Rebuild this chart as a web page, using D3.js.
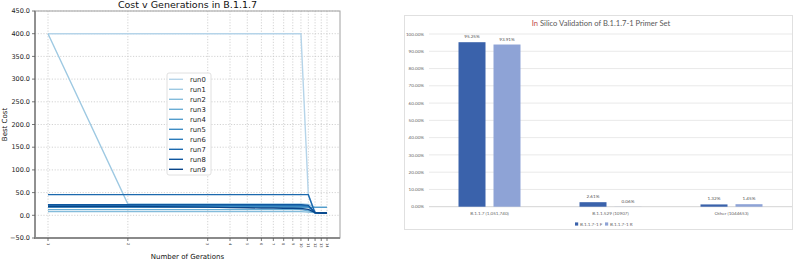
<!DOCTYPE html>
<html>
<head>
<meta charset="utf-8">
<script src="https://cdn.jsdelivr.net/npm/d3@7"></script>
<style>
  body { margin: 0; background: #fff; }
  svg { display: block; }
</style>
</head>
<body>
<div id="chart"></div>
<script>
// ---- data: left chart (cost per generation, 10 runs) ----
var gens = [1, 2, 3, 4, 5, 6, 7, 8, 9, 10, 11, 12, 13, 14];
var genLabels = ["1", "2", "3", "4", "5", "6", "7", "8", "9", "10", "11", "12", "13", "14"];
var runNames = ["run0", "run1", "run2", "run3", "run4", "run5", "run6", "run7", "run8", "run9"];
var run0 = [400, 400, 400, 400, 400, 400, 400, 400, 400, 400, 45, 6, 6, 6];
var run1 = [400, 25, 25, 25, 25, 25, 25, 25, 25, 25, 24, 18, 18, 18];
var run2 = [8, 8, 8, 8, 8, 8, 8, 8, 8, 8, 7, 6, 6, 6];
var run3 = [12.5, 12.5, 12.5, 12.5, 12.5, 12.5, 12.5, 12.5, 12.5, 12.5, 10, 6, 5, 5];
var run4 = [17.5, 17.5, 17.5, 17.5, 17.5, 17.5, 17.5, 17.5, 17.5, 17.5, 17.5, 17.5, 17.5, 17.5];
var run5 = [20, 20, 20, 20, 20, 20, 20, 20, 20, 20, 19, 6, 5, 5];
var run6 = [22, 22, 22, 22, 22, 22, 22, 22, 22, 22, 20, 6, 5, 5];
var run7 = [45.5, 45.5, 45.5, 45.5, 45.5, 45.5, 45.5, 45.5, 45.5, 45.5, 45.5, 5, 5, 5];
var run8 = [23.5, 23.5, 23.5, 23.5, 23.5, 23.5, 23.5, 23.5, 23.5, 23.5, 22, 6, 5, 5];
var run9 = [19.5, 19.5, 18, 17, 16.5, 16, 16, 15.5, 15.5, 15, 13, 6, 5, 5];
var runs = [run0, run1, run2, run3, run4, run5, run6, run7, run8, run9];
var costTicks = [-50, 0, 50, 100, 150, 200, 250, 300, 350, 400, 450];

// ---- data: right chart (in silico validation) ----
var categories = ["B.1.1.7 (1,051,740)", "B.1.1.529 (10907)", "Other (1044653)"];
var primerNames = ["B.1.1.7-1 F", "B.1.1.7-1 R"];
var primerF = [95.25, 2.61, 1.32];
var primerR = [93.91, 0.06, 1.45];
var pctTicks = [0, 10, 20, 30, 40, 50, 60, 70, 80, 90, 100];

var svg = d3.select("#chart").append("svg")
  .attr("width", 799)
  .attr("height", 261);

// ================= left: line chart =================
var L = {left: 35, right: 340, top: 11, bottom: 238};

// linear for the first generations, log afterwards (symlog style axis)
var LIN = 0.448;
function tx(g) { return g <= 3 ? g * LIN : 3 * LIN + Math.log10(g / 3); }
var xs = d3.scaleLinear().domain([tx(1), tx(14)]).range([48, 327]);
function x(g) { return xs(tx(g)); }

var y = d3.scaleLinear().domain([-50, 450]).range([L.bottom, L.top]);

var left = svg.append("g").attr("font-family", "DejaVu Sans, sans-serif");

// grid
left.append("g").selectAll("line.gy")
  .data(costTicks)
  .join("line")
    .attr("x1", L.left).attr("x2", L.right)
    .attr("y1", function(d) { return y(d); }).attr("y2", function(d) { return y(d); })
    .attr("stroke", "#c8c8c8").attr("stroke-width", 0.8)
    .attr("stroke-dasharray", "1.2,1.6");
left.append("g").selectAll("line.gx")
  .data(gens)
  .join("line")
    .attr("x1", function(d) { return x(d); }).attr("x2", function(d) { return x(d); })
    .attr("y1", L.top).attr("y2", L.bottom)
    .attr("stroke", "#c8c8c8").attr("stroke-width", 0.8)
    .attr("stroke-dasharray", "1.2,1.6");

// lines
var colors = runs.map(function(d, i) { return d3.interpolateBlues(0.3 + 0.62 * i / 9); });
var line = d3.line()
  .x(function(d, i) { return x(gens[i]); })
  .y(function(d) { return y(d); });

left.append("g").selectAll("path")
  .data(runs)
  .join("path")
    .attr("fill", "none")
    .attr("stroke", function(d, i) { return colors[i]; })
    .attr("stroke-width", 1.4)
    .attr("d", line);

// frame
left.append("rect")
  .attr("x", L.left).attr("y", L.top)
  .attr("width", L.right - L.left).attr("height", L.bottom - L.top)
  .attr("fill", "none").attr("stroke", "#a0a0a0").attr("stroke-width", 1);
left.append("line").attr("x1", L.left).attr("x2", L.left).attr("y1", L.top).attr("y2", L.bottom + 1)
  .attr("stroke", "#8a8a8a").attr("stroke-width", 1.8);
left.append("line").attr("x1", L.left - 1).attr("x2", L.right).attr("y1", L.bottom).attr("y2", L.bottom)
  .attr("stroke", "#8a8a8a").attr("stroke-width", 1.8);

// y axis ticks
left.append("g").selectAll("g")
  .data(costTicks)
  .join("g")
    .attr("transform", function(d) { return "translate(0," + y(d) + ")"; })
    .each(function(d) {
      var g = d3.select(this);
      g.append("line").attr("x1", L.left - 3).attr("x2", L.left).attr("stroke", "#555").attr("stroke-width", 0.8);
      g.append("text").attr("x", L.left - 5).attr("dy", "0.35em")
        .attr("text-anchor", "end").attr("font-size", 6.5).attr("fill", "#222")
        .text(d3.format(".1f")(d));
    });

// x axis ticks (rotated labels)
left.append("g").selectAll("g")
  .data(gens)
  .join("g")
    .attr("transform", function(d) { return "translate(" + x(d) + "," + L.bottom + ")"; })
    .each(function(d, i) {
      var g = d3.select(this);
      g.append("line").attr("y1", 0).attr("y2", 3).attr("stroke", "#555").attr("stroke-width", 0.8);
      g.append("text").attr("transform", "translate(0,5) rotate(90)")
        .attr("dy", "0.35em").attr("font-size", 3.6).attr("fill", "#333")
        .text(genLabels[i]);
    });

// titles
left.append("text").attr("x", (L.left + L.right) / 2).attr("y", 8)
  .attr("text-anchor", "middle").attr("font-size", 9.5).attr("fill", "#111")
  .text("Cost v Generations in B.1.1.7");
left.append("text").attr("x", (L.left + L.right) / 2).attr("y", 259)
  .attr("text-anchor", "middle").attr("font-size", 7).attr("fill", "#111")
  .text("Number of Gerations");
left.append("text").attr("transform", "translate(7," + ((L.top + L.bottom) / 2) + ") rotate(-90)")
  .attr("text-anchor", "middle").attr("font-size", 7).attr("fill", "#111")
  .text("Best Cost");

// legend
var lg = left.append("g").attr("transform", "translate(167,73)");
lg.append("rect").attr("width", 44).attr("height", 102).attr("rx", 2)
  .attr("fill", "#fff").attr("fill-opacity", 0.85).attr("stroke", "#d8d8d8").attr("stroke-width", 0.8);
lg.selectAll("g")
  .data(runNames)
  .join("g")
    .attr("transform", function(d, i) { return "translate(0," + (6.3 + i * 10) + ")"; })
    .each(function(d, i) {
      var g = d3.select(this);
      g.append("line").attr("x1", 2).attr("x2", 16).attr("stroke", colors[i]).attr("stroke-width", 1.4);
      g.append("text").attr("x", 23).attr("dy", "0.35em").attr("font-size", 6.8).attr("fill", "#222").text(d);
    });

// ================= right: grouped bar chart =================
var R = {left: 429, right: 792, top: 34, bottom: 206.7};
var right = svg.append("g").attr("font-family", "Lato, Open Sans, sans-serif");

right.append("rect").attr("x", 404.5).attr("y", 15.5).attr("width", 388).attr("height", 214)
  .attr("fill", "#fff").attr("stroke", "#e0e0e0").attr("stroke-width", 1);

var yb = d3.scaleLinear().domain([0, 100]).range([R.bottom, R.top]);
var x0 = d3.scaleBand().domain(categories).range([R.left, R.right]);
var x1 = d3.scaleBand().domain(primerNames).range([0, x0.bandwidth()])
  .paddingInner(0.2286).paddingOuter(0.843);
var barColors = {"B.1.1.7-1 F": "#3a62ab", "B.1.1.7-1 R": "#8ea3d6"};

right.append("g").selectAll("line")
  .data(pctTicks)
  .join("line")
    .attr("x1", R.left).attr("x2", R.right)
    .attr("y1", function(d) { return yb(d); }).attr("y2", function(d) { return yb(d); })
    .attr("stroke", function(d) { return d === 0 ? "#d0d0d0" : "#e6e6e6"; }).attr("stroke-width", 0.9);

right.append("g").selectAll("text")
  .data(pctTicks)
  .join("text")
    .attr("x", 424).attr("y", function(d) { return yb(d); }).attr("dy", "0.35em")
    .attr("text-anchor", "end").attr("font-size", 4.6).attr("fill", "#666")
    .text(function(d) { return d3.format(".2f")(d) + "%"; });

var rows = categories.map(function(c, i) {
  return {cat: c, vals: [{k: primerNames[0], v: primerF[i]}, {k: primerNames[1], v: primerR[i]}]};
});

var grp = right.append("g").selectAll("g")
  .data(rows)
  .join("g")
    .attr("transform", function(d) { return "translate(" + x0(d.cat) + ",0)"; });

grp.selectAll("rect")
  .data(function(d) { return d.vals; })
  .join("rect")
    .attr("x", function(d) { return x1(d.k); })
    .attr("y", function(d) { return yb(d.v); })
    .attr("width", x1.bandwidth())
    .attr("height", function(d) { return yb(0) - yb(d.v); })
    .attr("fill", function(d) { return barColors[d.k]; });

grp.selectAll("text")
  .data(function(d) { return d.vals; })
  .join("text")
    .attr("x", function(d) { return x1(d.k) + x1.bandwidth() / 2; })
    .attr("y", function(d) { return yb(d.v) - 4; })
    .attr("text-anchor", "middle").attr("font-size", 4.6).attr("fill", "#555")
    .text(function(d) { return d3.format(".2f")(d.v) + "%"; });

right.append("g").selectAll("text")
  .data(categories)
  .join("text")
    .attr("x", function(d) { return x0(d) + x0.bandwidth() / 2; })
    .attr("y", 214.5)
    .attr("text-anchor", "middle").attr("font-size", 4.6).attr("fill", "#666")
    .text(function(d) { return d; });

// legend
var rl = right.append("g").attr("transform", "translate(575,224)");
rl.selectAll("g")
  .data(primerNames)
  .join("g")
    .attr("transform", function(d, i) { return "translate(" + (i * 30) + ",0)"; })
    .each(function(d) {
      var g = d3.select(this);
      g.append("rect").attr("x", 0).attr("y", -1.6).attr("width", 3.2).attr("height", 3.2).attr("fill", barColors[d]);
      g.append("text").attr("x", 5).attr("dy", "0.35em").attr("font-size", 4.6).attr("fill", "#666").text(d);
    });

// title
var tt = right.append("text").attr("x", 601).attr("y", 26)
  .attr("text-anchor", "middle").attr("font-size", 7.6).attr("fill", "#595959");
tt.append("tspan").attr("fill", "#c0504d").text("In");
tt.append("tspan").text(" Silico Validation of B.1.1.7-1 Primer Set");
</script>
</body>
</html>
